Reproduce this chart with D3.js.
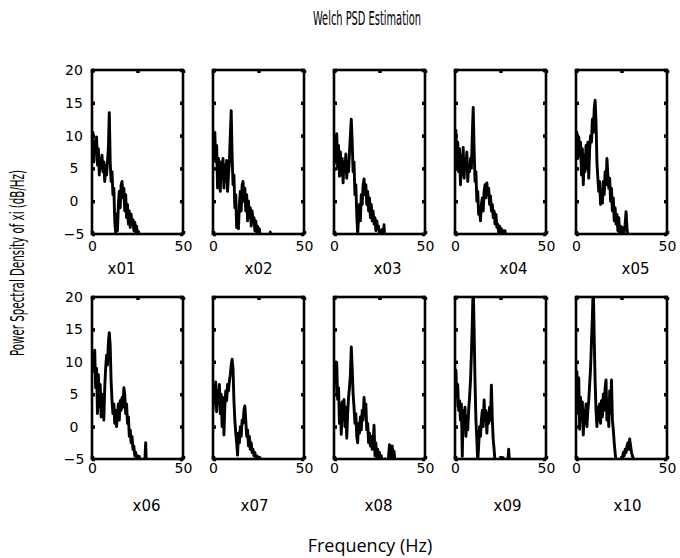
<!DOCTYPE html>
<html>
<head>
<meta charset="utf-8">
<script src="https://cdn.jsdelivr.net/npm/d3@7"></script>
<style>
  body { margin: 0; background: #fff; }
  svg { display: block; }
  .tick text { font-family: "DejaVu Sans", sans-serif; font-size: 14px; fill: #000; }
</style>
</head>
<body>
<div id="chart"></div>
<script>
// spectra sampled every FREQ_STEP Hz, in dB/Hz (values under -5 fall below the axes)
const FREQ_STEP = 0.5;

const x01 = [7, 10.5, 6, 9, 7.5, 9.8, 5.5, 8, 4, 6.5, 5, 7, 4.5, 6, 3, 5.5, 4, 6, 8, 13.5,
  6, 3, 4.5, 1, 2, -3, -4.8, -2, -4.5, -0.5, 1.5, -1, 2.5, 3, 0.5, 2, -1.5, 1, -2.5, -0.5,
  -3.5, -1.5, -4, -2, -3.5, -2.8, -4.5, -3.2, -4.8, -3.8, -5.5, -4.6, -6, -7];
const x02 = [6, 9, 10.5, 6, 8.5, 2, 6.5, 4.5, 1.5, 6, 3.5, 6.5, 2, 5.5, 3, 6.2, 1.5, 4, 6, 10,
  13.8, 7, 2.5, 4, -1, 1, -4, -2.5, -4.2, -0.5, 1.5, -1.5, 2.5, 3, 0, 2, -1.5, 1, -3, 0,
  -2.5, -1, -3.8, -1.5, -3, -2.5, -4.5, -3, -4.8, -3.8, -5.5, -4.2, -6, -7, -8, -7.5, -8, -7, -7.5, -6.5,
  -7, -6, -6.5, -4.7, -7];
const x03 = [5.5, 9.5, 6, 10.3, 5, 8.5, 3.8, 7.5, 4, 6.5, 2.8, 6, 4.5, 7.2, 3.5, 6, 4.5, 7.5, 10, 12.5,
  9, 4.5, 6, 1, 2.5, -2, -5, -2.5, -0.5, -3, 1, -0.5, 2.5, 3.4, 1, 2.5, -0.5, 1.5, -1.5, 0.5,
  -2.5, -0.5, -3, -1.5, -3.5, -2.5, -4.5, -3, -4.2, -3.8, -5.2, -4.5, -5.5, -4.3, -5.5, -3.6, -7];
const x04 = [6, 10.8, 5, 9, 4.5, 8, 2.5, 7, 4, 8.2, 3.5, 6.5, 5, 7.5, 3, 5.5, 4.5, 6.5, 5, 10,
  14.3, 8, 3, 4.5, 0, 1.5, -2, -1, -3, -0.5, 0.5, -1.5, 1.5, 2.5, 0.5, 2.8, 1, 2, -0.5, 0.8,
  -1.5, -0.5, -2.5, -1.5, -3.5, -2, -4, -3.5, -4.8, -3.8, -5.2, -4.2, -5.5, -4.5, -5.5, -4.5, -6];
const x05 = [7, 10.5, 6.5, 9.8, 7, 9, 4, 8, 2.5, 7, 4.5, 8.5, 5, 9, 3.5, 8, 10, 9, 12.5, 10.5,
  14, 15.4, 12, 6, 3.5, 1.5, 3, -0.5, 1.5, -0.3, 3, 1, 4.5, 2.5, 6.5, 4, 2, 3.5, 0, 2,
  -1.5, 0.5, -3, -1, -3.5, -2, -4.5, -2.5, -5, -3.8, -5.2, -4, -5.5, -4.5, -3.5, -1.6, -4, -5.5, -7];
const x06 = [9, 11.5, 8.5, 11.8, 6, 9, 2, 8, 3, 6.5, 1.5, 5, 3.5, 1, 6, 9, 11, 9.5, 13, 14.5,
  12.5, 7, 4, 2, 3.5, 0.5, 2.5, 0, 2, 3.5, 1, 4, 2.5, 4.5, 3, 6, 5, 2, 3.5, 0.5,
  1.5, -1.5, -0.5, -2.5, -1.5, -3.5, -3, -4.5, -4, -5.2, -4.5, -5.5, -4.6, -6, -6.5, -5.5, -7, -6, -5.5, -2.5, -7];
const x07 = [2.5, 6.5, 3.5, 6.9, 2.3, 5.5, 3.5, 6.5, 2, 5, 0, 4.5, -1.3, 3, 5.5, 4, 6.5, 5.5, 7, 8,
  9.5, 10.4, 9, 4, 1, -1, -2.5, -4.4, -1, -2.5, 0, -1.5, 1, 0.5, 2.5, 3.2, 1, -1.5, -0.5, -3,
  -1.5, -3.5, -2.5, -4, -3.5, -4.5, -4, -4.8, -4.5, -5, -4.7, -5.2, -4.9, -5.5, -7];
const x08 = [5, 9.5, 8, 9.9, 4.2, 6, 0.5, 3.5, -1.2, 3.8, 1, 4.2, 0, 3, -1.8, 2, 4.5, 6, 8, 12.3,
  9, 5, 3, 0.5, 2, -1.5, -2.5, 0.5, -1, 1.5, -0.5, 2.5, 1, 4.5, 2, 3.5, -0.5, 0.5, -2.5, -1,
  -3, -1.5, -3.5, -2.5, 0.2, -4.5, -2.5, -5, -3.5, -5, -4, -5.5, -4.5, -6, -5.5, -6, -5, -6, -5.5, -7,
  -4.5, -2.8, -6, -4, -3, -5, -3.8, -5.5, -7];
const x09 = [3, 8.7, 5, 6.5, 2.5, 4, 1, 3.5, -4.6, 2.5, 0.5, 3, -1.5, 1.5, -0.5, 2.5, 4.5, 7, 11, 16,
  22, 15, 7, 1, -2, -5.5, -3, 0, -1.5, 1, 2.5, 0, 4.1, 1, 2.5, -1, 2, 0.5, 3, 1,
  6.4, 1, -2, -3.5, -5.5, -6, -6.5, -6, -6.5, -6, -6, -5.5, -6, -4.8, -6, -6.5, -6, -6.5, -5.5, -3.5, -6];
const x10 = [4, 8.5, 2, 7.5, -0.4, 4.5, 1, 3.8, -1.3, 2.5, 0.5, 3.5, 0, 2.5, 4, 6.5, 9, 13, 17, 22,
  14, 7, 2.5, 0, 3, 1, 3.5, 0.5, 4, 1.5, 5, 2.5, 6, 7.2, 1, 4, 0, 5.5, 2, 7.2,
  1, -0.5, -2.5, -4, -5.5, -6, -6.5, -6, -6, -5.5, -6, -4.8, -4, -4.5, -3.5, -4, -3, -2.5, -3.5, -1.9,
  -3, -4, -4.5, -5, -7];

const panelNames = ["x01", "x02", "x03", "x04", "x05", "x06", "x07", "x08", "x09", "x10"];
const panelSeries = [x01, x02, x03, x04, x05, x06, x07, x08, x09, x10];
const xTicks = [0, 25, 50];
const xTickLabels = [0, 50];
const yTicks = [-5, 0, 5, 10, 15, 20];

const width = 680, height = 558;
const cols = 5;
const panelW = 91, colStep = 121, firstLeft = 92;
const rows = [
  { top: 70, h: 164, numY: 250, nameY: 269 },
  { top: 297, h: 162, numY: 472, nameY: 506 }
];
// panel names sit a little off-centre in the original
const nameShift = [-16, 0, 8, 13, 14, 9, -4, -1, 7, 6];
const narrowFont = "'Liberation Sans Narrow', 'DejaVu Sans Condensed', sans-serif";

const svg = d3.select("#chart").append("svg")
  .attr("width", width)
  .attr("height", height);

const x = d3.scaleLinear().domain([0, 50]).range([0, panelW]);

panelSeries.forEach((values, i) => {
  const r = rows[Math.floor(i / cols)];
  const c = i % cols;
  const left = firstLeft + c * colStep;
  const y = d3.scaleLinear().domain([-5, 20]).range([r.h, 0]);

  const g = svg.append("g").attr("transform", `translate(${left},${r.top})`);

  svg.append("clipPath").attr("id", "clip" + i)
    .append("rect").attr("width", panelW).attr("height", r.h);

  // spectrum
  const line = d3.line()
    .x((d, k) => x(k * FREQ_STEP))
    .y(d => y(d));

  g.append("path")
    .datum(values)
    .attr("clip-path", `url(#clip${i})`)
    .attr("d", line)
    .attr("fill", "none")
    .attr("stroke", "#000")
    .attr("stroke-width", 2.9)
    .attr("stroke-linejoin", "round");

  // frame
  g.append("rect")
    .attr("width", panelW)
    .attr("height", r.h)
    .attr("fill", "none")
    .attr("stroke", "#000")
    .attr("stroke-width", 2.6);

  // inward ticks on all four sides
  const tickAxes = [
    [d3.axisBottom(x).tickValues(xTicks), `translate(0,${r.h})`],
    [d3.axisTop(x).tickValues(xTicks), "translate(0,0)"],
    [d3.axisLeft(y).tickValues(yTicks), "translate(0,0)"],
    [d3.axisRight(y).tickValues(yTicks), `translate(${panelW},0)`]
  ];
  tickAxes.forEach(([ax, tr]) => {
    const a = g.append("g").attr("transform", tr)
      .call(ax.tickSize(-3).tickFormat(""));
    a.select(".domain").remove();
    a.selectAll(".tick line").attr("stroke-width", 3.5);
  });

  // x tick labels
  const xl = g.append("g").attr("transform", `translate(0,${r.numY - r.top - 9})`)
    .call(d3.axisBottom(x).tickValues(xTickLabels).tickSize(0).tickPadding(0));
  xl.select(".domain").remove();

  // y tick labels on the first column
  if (c === 0) {
    const yl = g.append("g").attr("transform", "translate(-12,0)")
      .call(d3.axisLeft(y).tickValues(yTicks).tickSize(0).tickPadding(0));
    yl.select(".domain").remove();
    yl.selectAll("text").attr("text-anchor", "middle").attr("x", -6);
  }

  // panel name
  g.append("text")
    .attr("x", panelW / 2 + nameShift[i])
    .attr("y", r.nameY - r.top)
    .attr("dy", "0.35em")
    .attr("text-anchor", "middle")
    .style("font-family", "'DejaVu Sans', sans-serif")
    .style("font-size", "15px")
    .text(panelNames[i]);
});

// title
svg.append("text")
  .attr("x", 367)
  .attr("y", 25)
  .attr("text-anchor", "middle")
  .attr("textLength", 108)
  .attr("lengthAdjust", "spacingAndGlyphs")
  .style("font-family", narrowFont)
  .style("font-size", "19px")
  .text("Welch PSD Estimation");

// y label
svg.append("text")
  .attr("transform", "translate(24,263) rotate(-90)")
  .attr("text-anchor", "middle")
  .attr("textLength", 186)
  .attr("lengthAdjust", "spacingAndGlyphs")
  .style("font-family", narrowFont)
  .style("font-size", "19px")
  .text("Power Spectral Density of xi (dB/Hz)");

// x label
svg.append("text")
  .attr("x", 370)
  .attr("y", 552)
  .attr("text-anchor", "middle")
  .style("font-family", "'Open Sans', sans-serif")
  .style("font-size", "18px")
  .text("Frequency (Hz)");
</script>
</body>
</html>
